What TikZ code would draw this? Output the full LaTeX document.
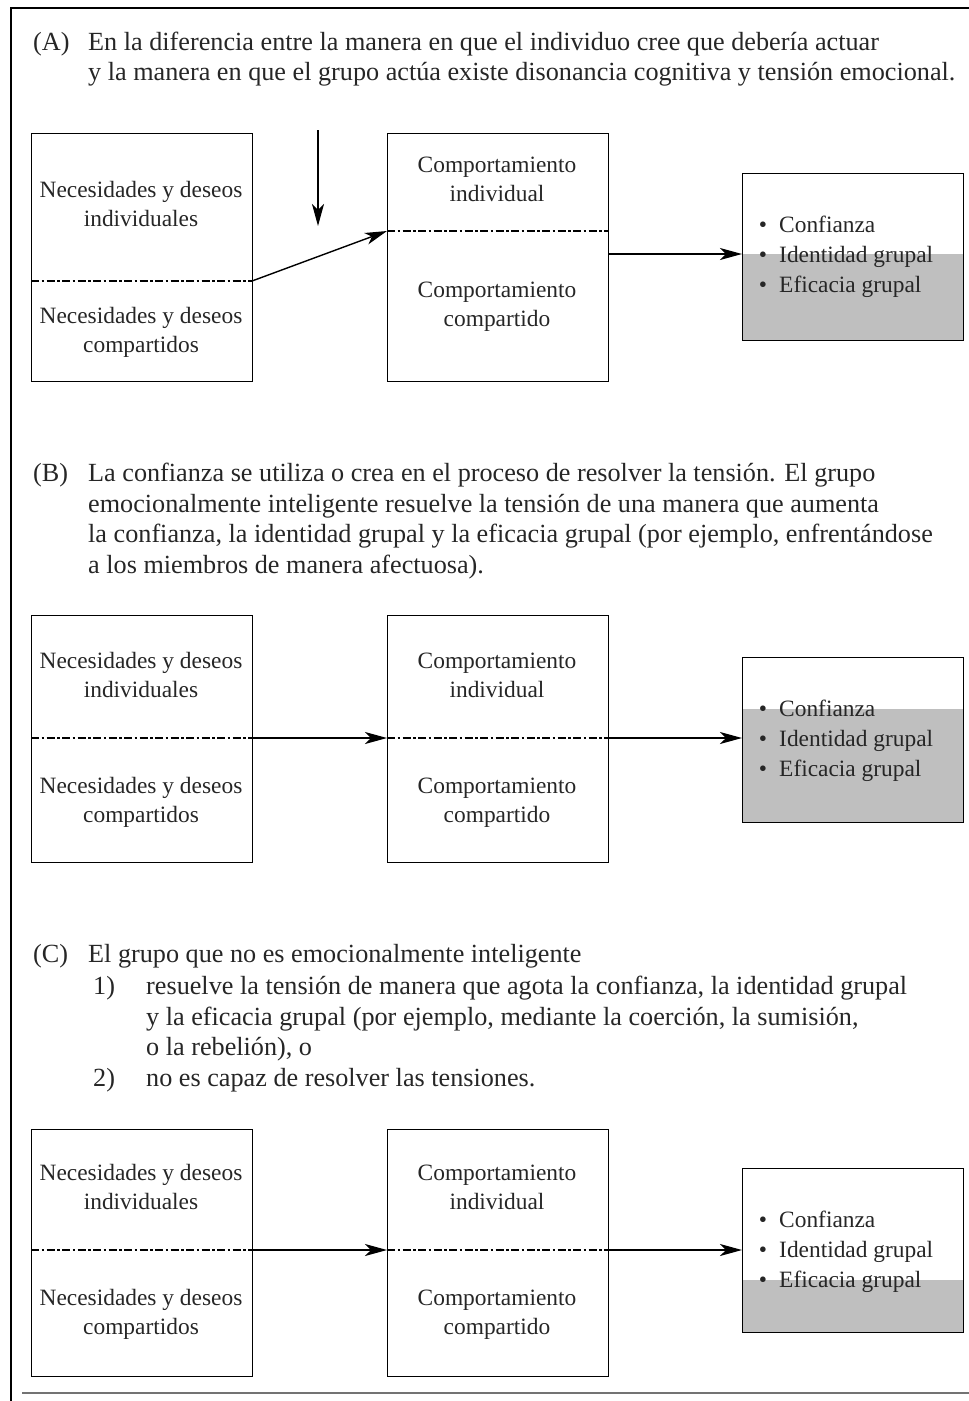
\documentclass[tikz,border=0pt]{standalone}
\usepackage{fontspec}
\setmainfont{Liberation Serif}
\usetikzlibrary{arrows.meta}
\tikzset{
  box/.style={draw, line width=1.4pt, minimum width=221pt, anchor=north west, inner sep=0pt},
  txt/.style={font=\fontsize{23.4}{29}\selectfont, inner sep=0pt, text=black!85},
  head/.style={font=\fontsize{26.2}{30}\selectfont, inner sep=0pt, anchor=base west, text=black!85},
  ddash/.style={line width=1.2pt, dash pattern=on 8pt off 2.5pt on 2.5pt off 2.5pt},
  arr/.style={line width=1.4pt, -{Stealth[length=22pt,width=12pt,inset=6pt]}},
  shade/.style={fill=black!25, draw=none},
}
\newcommand\twol[5]{%
  \node[txt,anchor=base] (#1a) at (#2,#3) {#4};
  \node[txt,anchor=base] (#1b) at (#2,{#3+29}) {#5};}
\newcommand\bul[4]{%
  \node[txt,anchor=base] (#1a) at (763,#2) {\textbullet};
  \node[txt,anchor=base west] (#1b) at (779,#2) {#3};
  \node[txt,anchor=base] (#1c) at (763,{#2+30}) {\textbullet};
  \node[txt,anchor=base west] (#1d) at (779,{#2+30}) {#4};}
\begin{document}
\begin{tikzpicture}[x=1pt,y=-1pt]
\useasboundingbox (0,0) rectangle (969,1401);
% frame
\draw[line width=2.8pt] (969,8) -- (11,8) -- (11,1401);
\draw[line width=2pt, black!55] (22,1393) -- (969,1393);

% ---------- (A) ----------
\node[head] (hA1) at (33,50) {(A)};
\node[head] (hA2) at (88,50) {En la diferencia entre la manera en que el individuo cree que debería actuar};
\node[head] (hA3) at (88,80) {y la manera en que el grupo actúa existe disonancia cognitiva y tensión emocional.};

\node[box, minimum height=248pt] (A1) at (31,133) {};
\node[box, minimum height=248pt] (A2) at (387,133) {};
\fill[shade] (742,254) rectangle (963,340);
\node[box, minimum height=167pt] (A3) at (742,173) {};
\coordinate (a1l) at (31,281); \coordinate (a1r) at (252,281);
\coordinate (a2l) at (387,231); \coordinate (a2r) at (608,231);
\coordinate (a2o) at (608,254); \coordinate (a3i) at (742,254);
\coordinate (dtop) at (318,130); \coordinate (dbot) at (318,226);
\draw[ddash] (a1l) -- (a1r);
\draw[ddash] (a2l) -- (a2r);
\draw[arr] (a1r) -- (a2l);
\draw[arr] (a2o) -- (a3i);
\draw[arr] (dtop) -- (dbot);
\twol{tA1}{141}{197}{Necesidades y deseos}{individuales}
\twol{tA2}{141}{323}{Necesidades y deseos}{compartidos}
\twol{tA3}{497}{172}{Comportamiento}{individual}
\twol{tA4}{497}{297}{Comportamiento}{compartido}
\bul{bA1}{232}{Confianza}{Identidad grupal}
\node[txt,anchor=base] (bA5) at (763,292) {\textbullet};
\node[txt,anchor=base west] (bA6) at (779,292) {Eficacia grupal};

% ---------- (B) ----------
\node[head] (hB1) at (33,481) {(B)};
\node[head] (hB2) at (88,481) {La confianza se utiliza o crea en el proceso de resolver la tensión. El grupo};
\node[head] (hB3) at (88,512) {emocionalmente inteligente resuelve la tensión de una manera que aumenta};
\node[head] (hB4) at (88,542) {la confianza, la identidad grupal y la eficacia grupal (por ejemplo, enfrentándose};
\node[head] (hB5) at (88,573) {a los miembros de manera afectuosa).};

\node[box, minimum height=247pt] (B1) at (31,615) {};
\node[box, minimum height=247pt] (B2) at (387,615) {};
\fill[shade] (742,709) rectangle (963,822);
\node[box, minimum height=165pt] (B3) at (742,657) {};
\coordinate (b1l) at (31,738); \coordinate (b1r) at (252,738);
\coordinate (b2l) at (387,738); \coordinate (b2r) at (608,738);
\coordinate (b3i) at (742,738);
\draw[ddash] (b1l) -- (b1r);
\draw[ddash] (b2l) -- (b2r);
\draw[arr] (b1r) -- (b2l);
\draw[arr] (b2r) -- (b3i);
\twol{tB1}{141}{668}{Necesidades y deseos}{individuales}
\twol{tB2}{141}{793}{Necesidades y deseos}{compartidos}
\twol{tB3}{497}{668}{Comportamiento}{individual}
\twol{tB4}{497}{793}{Comportamiento}{compartido}
\bul{bB1}{716}{Confianza}{Identidad grupal}
\node[txt,anchor=base] (bB5) at (763,776) {\textbullet};
\node[txt,anchor=base west] (bB6) at (779,776) {Eficacia grupal};

% ---------- (C) ----------
\node[head] (hC1) at (33,962) {(C)};
\node[head] (hC2) at (88,962) {El grupo que no es emocionalmente inteligente};
\node[head] (hC3) at (93,994) {1)};
\node[head] (hC4) at (146,994) {resuelve la tensión de manera que agota la confianza, la identidad grupal};
\node[head] (hC5) at (146,1025) {y la eficacia grupal (por ejemplo, mediante la coerción, la sumisión,};
\node[head] (hC6) at (146,1055) {o la rebelión), o};
\node[head] (hC7) at (93,1086) {2)};
\node[head] (hC8) at (146,1086) {no es capaz de resolver las tensiones.};

\node[box, minimum height=247pt] (C1) at (31,1129) {};
\node[box, minimum height=247pt] (C2) at (387,1129) {};
\fill[shade] (742,1280) rectangle (963,1332);
\node[box, minimum height=164pt] (C3) at (742,1168) {};
\coordinate (c1l) at (31,1250); \coordinate (c1r) at (252,1250);
\coordinate (c2l) at (387,1250); \coordinate (c2r) at (608,1250);
\coordinate (c3i) at (742,1250);
\draw[ddash] (c1l) -- (c1r);
\draw[ddash] (c2l) -- (c2r);
\draw[arr] (c1r) -- (c2l);
\draw[arr] (c2r) -- (c3i);
\twol{tC1}{141}{1180}{Necesidades y deseos}{individuales}
\twol{tC2}{141}{1305}{Necesidades y deseos}{compartidos}
\twol{tC3}{497}{1180}{Comportamiento}{individual}
\twol{tC4}{497}{1305}{Comportamiento}{compartido}
\bul{bC1}{1227}{Confianza}{Identidad grupal}
\node[txt,anchor=base] (bC5) at (763,1287) {\textbullet};
\node[txt,anchor=base west] (bC6) at (779,1287) {Eficacia grupal};
\end{tikzpicture}
\end{document}
